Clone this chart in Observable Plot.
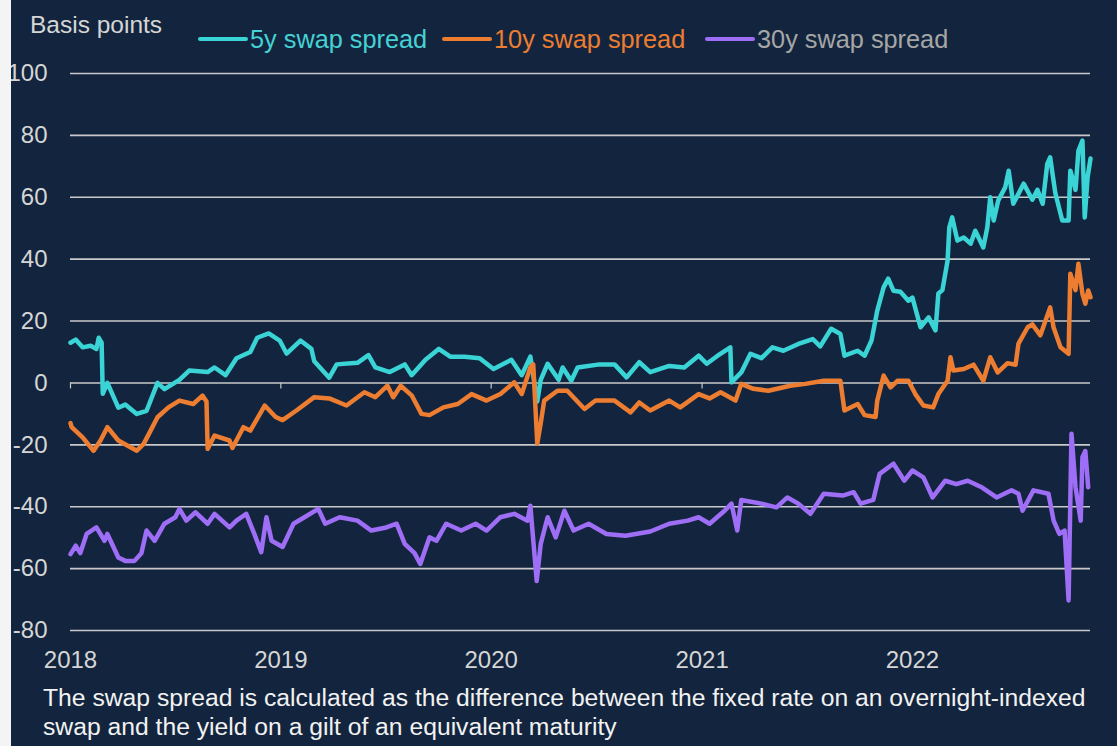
<!DOCTYPE html>
<html>
<head>
<meta charset="utf-8">
<script src="https://cdn.jsdelivr.net/npm/d3@7"></script>
<script src="https://cdn.jsdelivr.net/npm/@observablehq/plot@0.6"></script>
<style>
  html, body { margin: 0; padding: 0; background: #ffffff; }
  #page { position: relative; width: 1117px; height: 746px; background: #13253e; overflow: hidden;
          font-family: "Liberation Sans", Arial, sans-serif; }
  #strip { position: absolute; left: 0; top: 0; width: 11px; height: 746px; background: #f4f4f4; z-index: 5; }
  #header { position: relative; height: 52px; }
  .unit { position: absolute; left: 30px; top: 13px; font-size: 24.5px; line-height: 24px; color: #d6d6d6; }
  .item { position: absolute; top: 27px; font-size: 25.3px; line-height: 24px; white-space: nowrap; }
  .sw { display: inline-block; width: 50px; height: 4px; border-radius: 2px; vertical-align: 7px; margin-right: 2px; }
  #chart svg { display: block; }
  #caption { margin: 9px 0 0 43px; font-size: 24.7px; line-height: 29px; color: #f2f2f2; white-space: nowrap; }
</style>
</head>
<body>
<div id="page">
  <div id="strip"></div>
  <div id="header"></div>
  <div id="chart"></div>
  <div id="caption"></div>
</div>
<script>
// ---- Data ----
const unitLabel = "Basis points";
const seriesNames = ["5y swap spread", "10y swap spread", "30y swap spread"];
const seriesColors = ["#3bd4d6", "#ed7d31", "#9f6ef6"];
const legendTextColors = ["#46d2d4", "#ed7d31", "#a6a6a6"];
const yTicks = [-80, -60, -40, -20, 0, 20, 40, 60, 80, 100];
const xTickYears = ["2018-01-01", "2019-01-01", "2020-01-01", "2021-01-01", "2022-01-01"];
const xDomain = ["2018-01-01", "2022-11-06"];
const captionLines = [
  "The swap spread is calculated as the difference between the fixed rate on an overnight-indexed",
  "swap and the yield on a gilt of an equivalent maturity"
];

const dates5y = ["2018-01-01","2018-01-10","2018-01-22","2018-02-05","2018-02-15","2018-02-19","2018-02-24","2018-02-26","2018-03-06","2018-03-25",
"2018-04-06","2018-04-26","2018-05-13","2018-06-01","2018-06-13","2018-07-09","2018-07-26","2018-08-27","2018-09-08","2018-09-27",
"2018-10-16","2018-11-09","2018-11-21","2018-12-11","2018-12-30","2019-01-11","2019-02-04","2019-02-23","2019-02-28","2019-03-26",
"2019-04-08","2019-05-14","2019-06-02","2019-06-14","2019-07-09","2019-08-04","2019-08-16","2019-09-09","2019-10-02","2019-10-22",
"2019-11-16","2019-12-12","2020-01-05","2020-02-05","2020-02-23","2020-03-09","2020-03-21","2020-03-27","2020-04-08","2020-04-27",
"2020-05-04","2020-05-19","2020-05-30","2020-07-07","2020-08-02","2020-08-23","2020-09-14","2020-10-03","2020-11-05","2020-12-01",
"2020-12-26","2021-01-09","2021-01-28","2021-02-19","2021-02-21","2021-03-10","2021-03-26","2021-04-14","2021-05-03","2021-05-22",
"2021-06-17","2021-07-12","2021-07-25","2021-08-13","2021-08-29","2021-09-05","2021-09-28","2021-10-10","2021-10-22","2021-11-01",
"2021-11-12","2021-11-20","2021-11-29","2021-12-11","2021-12-25","2022-01-01","2022-01-15","2022-01-29","2022-02-10","2022-02-15",
"2022-02-22","2022-03-03","2022-03-06","2022-03-11","2022-03-20","2022-03-31","2022-04-12","2022-04-20","2022-05-04","2022-05-11",
"2022-05-16","2022-05-22","2022-05-30","2022-06-11","2022-06-17","2022-06-25","2022-07-13","2022-07-28","2022-08-06","2022-08-15",
"2022-08-23","2022-08-28","2022-09-06","2022-09-18","2022-09-29","2022-10-02","2022-10-11","2022-10-16","2022-10-23","2022-10-27",
"2022-11-01","2022-11-06"];
const spread5y = [13,14,11.5,12,11,14.6,13,-3.5,0,-8,
-7,-10,-9,0,-2,1,4,3.5,5,2.5,
8,10,14.6,16,13.7,9.5,13.7,11,7,1.7,
6,6.5,9,5,3.5,6,2.5,7.5,11,8.5,
8.5,8,4.5,7.5,2.5,8.5,-6,1,6.2,1,
5,0.7,5,6,6,1.8,6.7,3.5,5.5,5,
8.8,6.2,8.8,11.5,0.2,3.4,9.4,8,11.5,10.4,
12.6,14.2,11.8,17.5,15.8,8.8,10.4,8.8,13.7,23.4,
30.9,33.7,29.8,29.5,26.6,27.6,18,21.2,17,28.9,
30,39.5,50.3,53.5,46,47,45,49.2,43.8,50.3,
60,52.5,59,63.2,68.6,57.9,64.4,59.2,62.4,57.9,
70.8,72.9,61.3,52.5,52.5,68.6,62.4,75,78.3,53.5,
66.5,72.5];

const dates10y = ["2018-01-01","2018-01-03","2018-01-22","2018-02-10","2018-02-22","2018-03-06","2018-03-25","2018-04-26","2018-05-08","2018-05-20",
"2018-06-01","2018-06-20","2018-07-09","2018-08-02","2018-08-18","2018-08-25","2018-08-27","2018-09-08","2018-10-04","2018-10-09",
"2018-10-28","2018-11-09","2018-12-04","2018-12-23","2019-01-04","2019-01-28","2019-02-28","2019-03-26","2019-04-25","2019-05-26",
"2019-06-14","2019-07-05","2019-07-15","2019-07-28","2019-08-16","2019-09-02","2019-09-16","2019-10-10","2019-11-04","2019-11-28",
"2019-12-24","2020-01-17","2020-02-10","2020-02-23","2020-03-09","2020-03-14","2020-03-21","2020-03-27","2020-04-02","2020-04-25",
"2020-05-12","2020-06-11","2020-06-30","2020-08-02","2020-08-30","2020-09-14","2020-10-03","2020-11-05","2020-11-24","2020-12-26",
"2021-01-14","2021-02-02","2021-02-28","2021-03-10","2021-03-31","2021-04-26","2021-06-03","2021-06-29","2021-07-31","2021-08-29",
"2021-09-05","2021-09-28","2021-10-10","2021-10-29","2021-11-01","2021-11-12","2021-11-24","2021-12-06","2021-12-25","2022-01-06",
"2022-01-20","2022-02-06","2022-02-15","2022-03-03","2022-03-08","2022-03-13","2022-03-31","2022-04-17","2022-05-04","2022-05-16",
"2022-05-29","2022-06-15","2022-06-29","2022-07-04","2022-07-20","2022-07-28","2022-08-11","2022-08-28","2022-09-03","2022-09-15",
"2022-09-29","2022-10-02","2022-10-11","2022-10-16","2022-10-23","2022-10-28","2022-11-02","2022-11-06"];
const spread10y = [-13,-14.3,-17.6,-21.9,-18.6,-14.3,-18.6,-21.9,-19.7,-15.4,
-11.1,-7.9,-5.7,-6.8,-4.1,-6,-21.3,-17,-18.6,-21,
-14.3,-15.4,-7.3,-11,-12,-8.9,-4.6,-5,-7.3,-3,
-4.6,-0.9,-4.6,-0.9,-4,-10,-10.4,-7.9,-6.8,-3.6,
-5.7,-3.6,0.2,-3.6,5,6,-19.6,-13,-5.7,-2.5,
-2.5,-8.4,-5.7,-5.7,-9.5,-6.3,-8.9,-5.7,-7.9,-3.6,
-5,-3,-5.7,-0.3,-1.9,-2.5,-0.9,-0.3,0.7,0.7,
-8.9,-6.8,-10.4,-11,-5.7,2.4,-1.4,0.7,0.7,-3.6,
-7.3,-7.9,-3.6,0.7,8.3,4,4.5,5.9,0.7,8.3,
3.4,6.4,5.9,12.7,18,18.9,15.4,24.4,17.9,11.5,
9.4,35.3,30,38.5,28.8,25.6,29.9,27.7];

const dates30y = ["2018-01-01","2018-01-10","2018-01-18","2018-01-29","2018-02-15","2018-03-01","2018-03-06","2018-03-25","2018-04-06","2018-04-22",
"2018-05-04","2018-05-13","2018-05-27","2018-06-13","2018-07-02","2018-07-09","2018-07-21","2018-08-06","2018-08-27","2018-09-08",
"2018-10-04","2018-10-16","2018-11-02","2018-11-16","2018-11-28","2018-12-07","2018-12-16","2019-01-04","2019-01-23","2019-02-11",
"2019-03-07","2019-03-19","2019-04-13","2019-05-14","2019-06-07","2019-07-03","2019-07-21","2019-08-04","2019-08-21","2019-08-31",
"2019-09-16","2019-09-28","2019-10-15","2019-11-10","2019-12-05","2019-12-24","2020-01-17","2020-02-10","2020-03-04","2020-03-09",
"2020-03-20","2020-03-27","2020-04-08","2020-04-22","2020-05-07","2020-05-23","2020-06-18","2020-07-19","2020-08-21","2020-10-03",
"2020-11-05","2020-12-07","2020-12-26","2021-01-14","2021-02-09","2021-02-21","2021-03-03","2021-03-10","2021-04-14","2021-05-10",
"2021-05-29","2021-06-17","2021-07-08","2021-07-31","2021-09-02","2021-09-21","2021-10-03","2021-10-25","2021-11-05","2021-11-29",
"2021-12-18","2022-01-01","2022-01-20","2022-02-05","2022-02-27","2022-03-18","2022-04-07","2022-05-02","2022-05-27","2022-06-22",
"2022-07-04","2022-07-11","2022-07-30","2022-08-25","2022-09-03","2022-09-13","2022-09-22","2022-09-29","2022-10-04","2022-10-11",
"2022-10-20","2022-10-23","2022-10-28","2022-11-02"];
const spread30y = [-55.3,-52.6,-55,-48.8,-46.7,-51,-48.8,-56.4,-57.5,-57.5,
-55,-47.7,-51,-45.5,-43.4,-40.7,-44.5,-41.8,-45.5,-42.3,
-46.7,-44.5,-42.3,-48.8,-54.7,-43.4,-51,-53,-45.5,-43.4,
-40.7,-45.5,-43.4,-44.5,-47.7,-46.7,-45.5,-52,-55,-58.5,
-49.9,-51,-45.5,-47.7,-45.5,-47.7,-43.4,-42.3,-44.5,-39.7,
-64,-52,-43.4,-49.9,-41.3,-47.7,-45.5,-48.8,-49.4,-48,
-45.5,-44.5,-43.4,-45.5,-41.3,-39,-47.7,-37.8,-39,-40.2,
-37,-39,-42.3,-35.8,-36.4,-35.3,-39,-37.8,-29.4,-26.1,
-31.6,-28.3,-30.5,-37,-31.6,-32.7,-31.6,-33.8,-37,-34.7,
-35.8,-41.3,-34.7,-35.8,-44.5,-48.8,-47.7,-70.3,-16.4,-33.7,
-44.5,-24,-22,-33.7];

// ---- Build table ----
const seriesDates = [dates5y, dates10y, dates30y];
const seriesValues = [spread5y, spread10y, spread30y];
const rows = [];
seriesNames.forEach((name, s) => {
  seriesDates[s].forEach((d, i) => rows.push({series: name, date: new Date(d), value: seriesValues[s][i]}));
});
const yearTicks = xTickYears.map(d => new Date(d));

// ---- Header (unit label + legend) ----
const header = document.getElementById("header");
const unit = document.createElement("div");
unit.className = "unit";
unit.textContent = unitLabel;
header.appendChild(unit);
const legendLeft = [198, 442, 705];
seriesNames.forEach((name, i) => {
  const item = document.createElement("div");
  item.className = "item";
  item.style.left = legendLeft[i] + "px";
  item.style.color = legendTextColors[i];
  const sw = document.createElement("span");
  sw.className = "sw";
  sw.style.background = seriesColors[i];
  item.appendChild(sw);
  item.appendChild(document.createTextNode(name));
  header.appendChild(item);
});

// ---- Chart ----
const font = '"Liberation Sans", Arial, sans-serif';
const chart = Plot.plot({
  width: 1117,
  height: 622,
  marginTop: 21,
  marginBottom: 44,
  marginLeft: 70,
  marginRight: 27,
  style: {background: "transparent", color: "#d6d6d6", fontFamily: font, fontSize: "24px"},
  x: {type: "utc", domain: xDomain.map(d => new Date(d))},
  y: {domain: [-80, 100]},
  color: {domain: seriesNames, range: seriesColors},
  marks: [
    Plot.ruleY(yTicks, {stroke: "#c9c9c9", strokeWidth: 1.6}),
    Plot.ruleX(yearTicks, {x: d => d, y1: 0, y2: 0, insetBottom: -6, stroke: "#c9c9c9", strokeWidth: 1.2}),
    Plot.axisY({ticks: yTicks, tickSize: 0, tickPadding: 23, tickFormat: d => String(d), label: null, fontSize: 24}),
    Plot.axisX({ticks: yearTicks, tickSize: 0, tickPadding: 20, tickFormat: d => String(d.getUTCFullYear()), label: null, fontSize: 24}),
    Plot.line(rows, {x: "date", y: "value", z: "series", stroke: "series", strokeWidth: 4.5, strokeLinejoin: "round", strokeLinecap: "round"})
  ]
});
document.getElementById("chart").appendChild(chart);

// ---- Caption ----
const cap = document.getElementById("caption");
captionLines.forEach((t, i) => {
  const line = document.createElement("div");
  line.textContent = t;
  cap.appendChild(line);
});
</script>
</body>
</html>
